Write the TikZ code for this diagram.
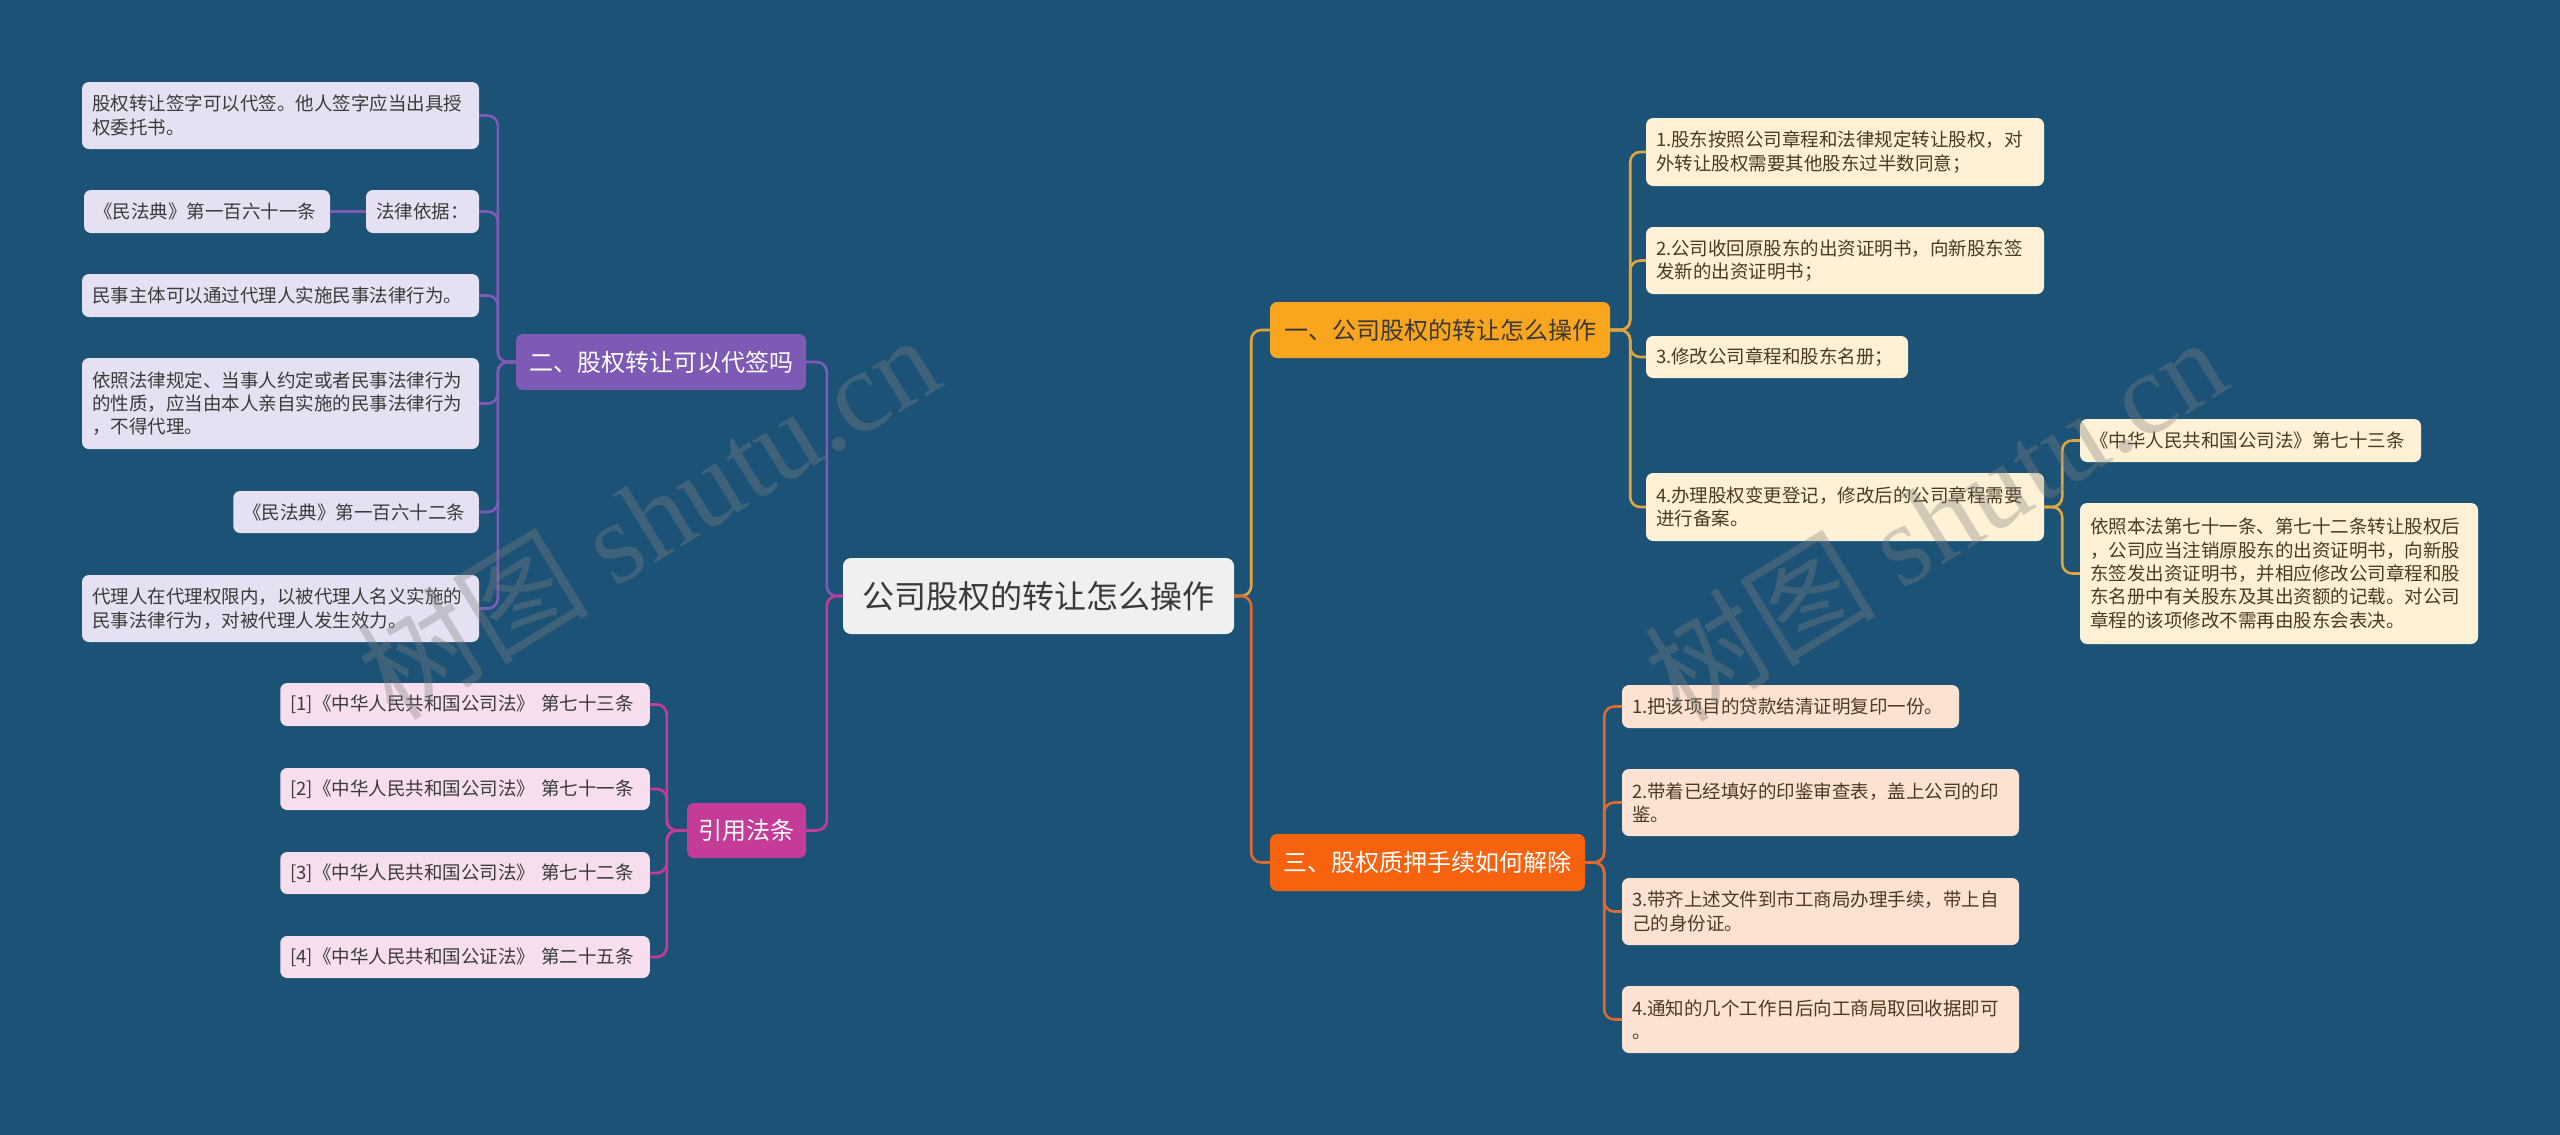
\documentclass[tikz,border=0pt]{standalone}
\usepackage{fontspec}
\setmainfont{Noto Sans CJK SC}
\newfontfamily\wmlatin{Liberation Serif}
\definecolor{bg}{HTML}{1B5276}
\definecolor{rootfill}{HTML}{F0F0F0}
\definecolor{purp}{HTML}{7D5AB5}
\definecolor{purpL}{HTML}{E6E1F2}
\definecolor{mag}{HTML}{C43C98}
\definecolor{magL}{HTML}{F7DEEF}
\definecolor{gold}{HTML}{F9A51E}
\definecolor{goldline}{HTML}{E0A63E}
\definecolor{goldL}{HTML}{FEF1D6}
\definecolor{oran}{HTML}{F6620E}
\definecolor{oranline}{HTML}{DD6A30}
\definecolor{oranL}{HTML}{FDE2D3}
\definecolor{txt}{HTML}{3A3A3A}
\definecolor{txtB}{HTML}{4A3A22}
\tikzset{
  leaf/.style={rounded corners=7pt, inner xsep=10pt, inner ysep=0pt, align=left,
    font=\fontsize{18.5}{23.3}\selectfont, text=txt},
  branch/.style={rounded corners=7pt, inner sep=0pt, align=center,
    font=\fontsize{24}{28}\selectfont},
  ln/.style={line width=2.6pt, rounded corners=10pt},
  wm/.style={rotate=31.5, text=gray, opacity=0.35, font=\fontsize{116}{120}\selectfont}
}
\begin{document}
\begin{tikzpicture}[x=1pt,y=-1pt]
\fill[bg] (0,0) rectangle (2560,1135);
\useasboundingbox (0,0) rectangle (2560,1135);

% root
\node[rounded corners=8pt, fill=rootfill, text=txt, inner sep=0pt, minimum width=391pt, minimum height=76pt,
  font=\fontsize{32}{36}\selectfont] (root) at (1038.5,596) {公司股权的转让怎么操作};

% branches
\node[branch, fill=purp, text=white, minimum width=290pt, minimum height=56pt] (B2) at (661,362) {二、股权转让可以代签吗};
\node[branch, fill=mag, text=white, minimum width=119pt, minimum height=55pt] (B4) at (746.5,830.5) {引用法条};
\node[branch, fill=gold, text=txt, minimum width=340pt, minimum height=56pt] (B1) at (1440,330) {一、公司股权的转让怎么操作};
\node[branch, fill=oran, text=white, minimum width=315pt, minimum height=57pt] (B3) at (1427.5,862.5) {三、股权质押手续如何解除};

% purple leaves
\node[leaf, fill=purpL, text width=377pt, minimum height=67pt] (L1) at (280.5,115.5) {股权转让签字可以代签。他人签字应当出具授\\权委托书。};
\node[leaf, fill=purpL, text width=93pt, minimum height=43pt] (L2a) at (422.5,211.5) {法律依据：};
\node[leaf, fill=purpL, text width=226pt, minimum height=43pt] (L2b) at (207,211.5) {《民法典》第一百六十一条};
\node[leaf, fill=purpL, text width=377pt, minimum height=43pt] (L3) at (280.5,295.5) {民事主体可以通过代理人实施民事法律行为。};
\node[leaf, fill=purpL, text width=377pt, minimum height=91pt] (L4) at (280.5,403.5) {依照法律规定、当事人约定或者民事法律行为\\的性质，应当由本人亲自实施的民事法律行为\\，不得代理。};
\node[leaf, fill=purpL, text width=225.5pt, minimum height=42pt] (L5) at (356,512) {《民法典》第一百六十二条};
\node[leaf, fill=purpL, text width=377pt, minimum height=67pt] (L6) at (280.5,608.5) {代理人在代理权限内，以被代理人名义实施的\\民事法律行为，对被代理人发生效力。};

% magenta leaves
\node[leaf, fill=magL, text width=349.5pt, minimum height=43pt] (R1) at (465,704.5) {[1]《中华人民共和国公司法》 第七十三条};
\node[leaf, fill=magL, text width=349.5pt, minimum height=42pt] (R2) at (465,789) {[2]《中华人民共和国公司法》 第七十一条};
\node[leaf, fill=magL, text width=349.5pt, minimum height=42pt] (R3) at (465,873) {[3]《中华人民共和国公司法》 第七十二条};
\node[leaf, fill=magL, text width=349.5pt, minimum height=42pt] (R4) at (465,957) {[4]《中华人民共和国公证法》 第二十五条};

% gold leaves
\node[leaf, fill=goldL, text=txtB, text width=378pt, minimum height=68pt] (O1) at (1845,152) {1.股东按照公司章程和法律规定转让股权，对\\外转让股权需要其他股东过半数同意；};
\node[leaf, fill=goldL, text=txtB, text width=378pt, minimum height=67pt] (O2) at (1845,260.5) {2.公司收回原股东的出资证明书，向新股东签\\发新的出资证明书；};
\node[leaf, fill=goldL, text=txtB, text width=242pt, minimum height=42pt] (O3) at (1777,357) {3.修改公司章程和股东名册；};
\node[leaf, fill=goldL, text=txtB, text width=378pt, minimum height=68pt] (O4) at (1845,507) {4.办理股权变更登记，修改后的公司章程需要\\进行备案。};
\node[leaf, fill=goldL, text=txtB, text width=321pt, minimum height=43pt] (O4a) at (2250.5,440.5) {《中华人民共和国公司法》第七十三条};
\node[leaf, fill=goldL, text=txtB, text width=378pt, minimum height=141pt] (O4b) at (2279,573.5) {依照本法第七十一条、第七十二条转让股权后\\，公司应当注销原股东的出资证明书，向新股\\东签发出资证明书，并相应修改公司章程和股\\东名册中有关股东及其出资额的记载。对公司\\章程的该项修改不需再由股东会表决。};

% orange leaves
\node[leaf, fill=oranL, text=txtB, text width=317pt, minimum height=43pt] (T1) at (1790.5,706.5) {1.把该项目的贷款结清证明复印一份。};
\node[leaf, fill=oranL, text=txtB, text width=377pt, minimum height=67pt] (T2) at (1820.5,802.5) {2.带着已经填好的印鉴审查表，盖上公司的印\\鉴。};
\node[leaf, fill=oranL, text=txtB, text width=377pt, minimum height=67pt] (T3) at (1820.5,911.5) {3.带齐上述文件到市工商局办理手续，带上自\\己的身份证。};
\node[leaf, fill=oranL, text=txtB, text width=377pt, minimum height=67pt] (T4) at (1820.5,1019.5) {4.通知的几个工作日后向工商局取回收据即可\\。};

% connectors
\draw[ln, purp] (root.west) -- ++(-16,0) |- (B2.east);
\draw[ln, mag] (root.west) -- ++(-16,0) |- (B4.east);
\draw[ln, goldline] (root.east) -- ++(17,0) |- (B1.west);
\draw[ln, oranline] (root.east) -- ++(17,0) |- (B3.west);
\foreach \n in {L1,L2a,L3,L4,L5,L6} \draw[ln, purp] (B2.west) -- ++(-18,0) |- (\n.east);
\draw[ln, purp] (L2a.west) -- (L2b.east);
\foreach \n in {R1,R2,R3,R4} \draw[ln, mag] (B4.west) -- ++(-20,0) |- (\n.east);
\foreach \n in {O1,O2,O3,O4} \draw[ln, goldline] (B1.east) -- ++(20,0) |- (\n.west);
\foreach \n in {O4a,O4b} \draw[ln, goldline] (O4.east) -- ++(18,0) |- (\n.west);
\foreach \n in {T1,T2,T3,T4} \draw[ln, oranline] (B3.east) -- ++(19,0) |- (\n.west);

% watermark
\node[wm] (wm1) at (648,516) {树图 {\wmlatin shutu.cn}};
\node[wm] (wm2) at (1935,518) {树图 {\wmlatin shutu.cn}};
\end{tikzpicture}
\end{document}
